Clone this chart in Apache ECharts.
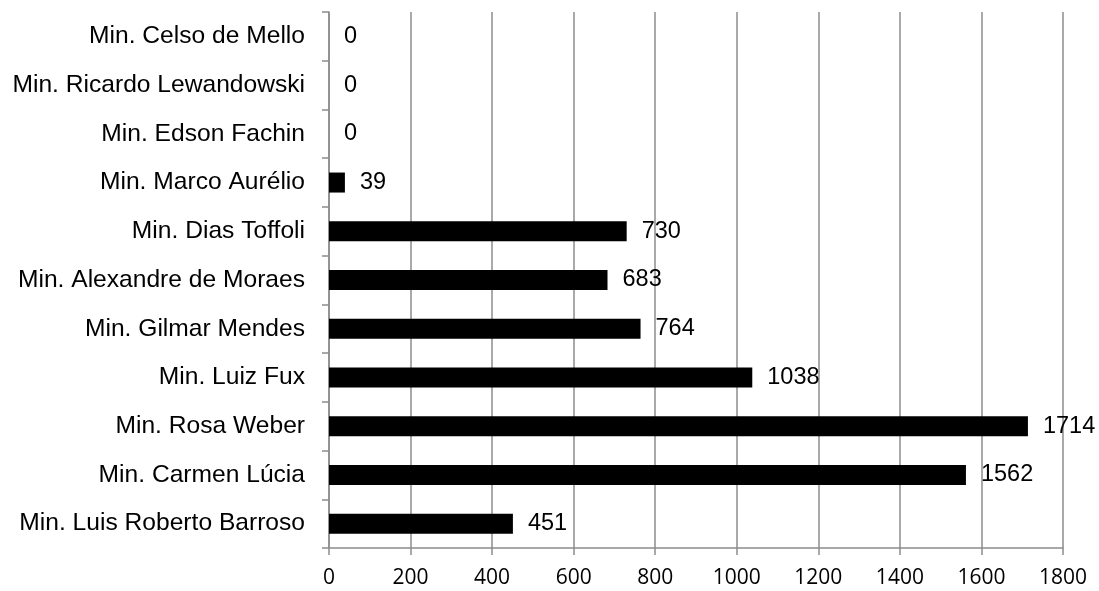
<!DOCTYPE html>
<html>
<head>
<meta charset="utf-8">
<style>
  html, body { margin: 0; padding: 0; background: #fff; }
  #chart { width: 1099px; height: 591px; }
</style>
<script src="https://cdn.jsdelivr.net/npm/echarts@6/dist/echarts.min.js"></script>
</head>
<body>
<div id="chart"></div>
<script>
// Ministers, listed bottom to top as the category axis draws them
const ministers = [
  'Min. Luis Roberto Barroso',
  'Min. Carmen Lúcia',
  'Min. Rosa Weber',
  'Min. Luiz Fux',
  'Min. Gilmar Mendes',
  'Min. Alexandre de Moraes',
  'Min. Dias Toffoli',
  'Min. Marco Aurélio',
  'Min. Edson Fachin',
  'Min. Ricardo Lewandowski',
  'Min. Celso de Mello'
];
const counts = [451, 1562, 1714, 1038, 764, 683, 730, 39, 0, 0, 0];
const xMin = 0;
const xMax = 1800;
const xStep = 200;

const gridGray = '#8c8c8c';

const chart = echarts.init(document.getElementById('chart'));
chart.setOption({
  animation: false,
  grid: { left: 329, right: 36, top: 12, bottom: 43, containLabel: false },
  xAxis: {
    type: 'value',
    min: xMin,
    max: xMax,
    interval: xStep,
    axisLine: { show: true, lineStyle: { color: gridGray, width: 1.5 } },
    axisTick: { show: true, length: 7, lineStyle: { color: gridGray, width: 1.5 } },
    axisLabel: {
      color: '#000', fontFamily: 'Open Sans', fontSize: 21, margin: 20,
      formatter: (v) => String(v)
    },
    splitLine: { show: true, lineStyle: { color: gridGray, width: 1.5 } }
  },
  yAxis: {
    type: 'category',
    data: ministers,
    axisLine: { show: true, lineStyle: { color: gridGray, width: 1.5 } },
    axisTick: { show: true, length: 7, lineStyle: { color: gridGray, width: 1.5 } },
    axisLabel: { color: '#000', fontFamily: 'Liberation Sans', fontSize: 24.6, margin: 24 },
    splitLine: { show: false }
  },
  series: [{
    type: 'bar',
    data: counts,
    barWidth: 20,
    itemStyle: { color: '#000' },
    label: {
      show: true,
      position: 'right',
      distance: 15,
      color: '#000',
      fontFamily: 'Liberation Sans',
      fontSize: 23.5
    }
  }]
});
</script>
</body>
</html>
